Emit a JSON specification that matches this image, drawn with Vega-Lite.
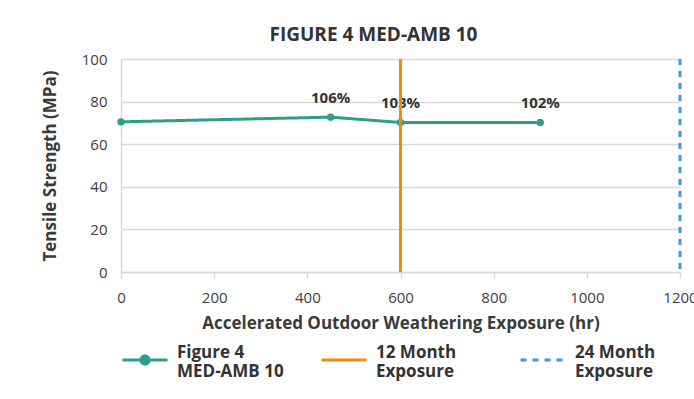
{
  "$schema": "https://vega.github.io/schema/vega-lite/v6.json",
  "width": 559,
  "height": 213,
  "autosize": "none",
  "padding": {"left": 121, "top": 59, "right": 14, "bottom": 127},
  "background": "white",
  "title": {"text": "FIGURE 4 MED-AMB 10", "font": "Open Sans", "fontSize": 19, "fontWeight": "bold", "color": "#333333", "anchor": "middle", "dx": -27, "offset": 7},
  "datasets": {
    "pts": [
      {"hours": 0, "strength": 70.5, "label": "", "series": "Figure 4|MED-AMB 10"},
      {"hours": 450, "strength": 72.7, "label": "106%", "series": "Figure 4|MED-AMB 10"},
      {"hours": 600, "strength": 70.2, "label": "103%", "series": "Figure 4|MED-AMB 10"},
      {"hours": 900, "strength": 70.2, "label": "102%", "series": "Figure 4|MED-AMB 10"}
    ],
    "refs": [
      {"hours": 600, "series": "12 Month|Exposure"},
      {"hours": 1200, "series": "24 Month|Exposure"}
    ]
  },
  "encoding": {
    "x": {"field": "hours", "type": "quantitative",
      "scale": {"domain": [0, 1200], "nice": false},
      "axis": {"title": "Accelerated Outdoor Weathering Exposure (hr)", "values": [0, 200, 400, 600, 800, 1000, 1200], "format": "d", "labelFlush": false, "labelOverlap": false, "grid": false, "domain": true, "domainColor": "#d9d9d9", "domainWidth": 1.5, "ticks": true, "tickColor": "#d9d9d9", "tickWidth": 1.5, "tickSize": 6, "labelFontSize": 15, "labelColor": "#404040", "labelPadding": 12, "titleFontSize": 17, "titleFontWeight": "bold", "titleColor": "#3a3a3a", "titlePadding": 10}
    },
    "color": {"field": "series", "type": "nominal",
      "scale": {"domain": ["Figure 4|MED-AMB 10", "12 Month|Exposure", "24 Month|Exposure"], "range": ["#2f9e88", "#f28a0a", "#3b9ad9"]},
      "legend": {"title": null, "labelExpr": "split(datum.label, '|')", "encode": {"labels": {"update": {"dy": {"value": -7}}}}}
    }
  },
  "layer": [
    {
      "data": {"name": "pts"},
      "mark": {"type": "line", "strokeWidth": 3},
      "encoding": {
        "y": {"field": "strength", "type": "quantitative",
          "scale": {"domain": [0, 100], "nice": false},
          "axis": {"title": "Tensile Strength (MPa)", "values": [0, 20, 40, 60, 80, 100], "grid": true, "gridColor": "#d9d9d9", "gridWidth": 1.5, "domain": true, "domainColor": "#d9d9d9", "domainWidth": 1.5, "ticks": false, "labelFontSize": 15, "labelColor": "#404040", "labelPadding": 14, "titleFontSize": 17, "titleFontWeight": "bold", "titleColor": "#3a3a3a", "titlePadding": 22}
        },
        "strokeDash": {"field": "series", "type": "nominal",
          "scale": {"domain": ["Figure 4|MED-AMB 10", "12 Month|Exposure", "24 Month|Exposure"], "range": [[1, 0], [1, 0], [6, 6]]},
          "legend": {"title": null, "labelExpr": "split(datum.label, '|')", "encode": {"labels": {"update": {"dy": {"value": -7}}}}}
        }
      }
    },
    {
      "data": {"name": "pts"},
      "mark": {"type": "point", "filled": true, "size": 55, "opacity": 1},
      "encoding": {
        "y": {"field": "strength", "type": "quantitative"}
      }
    },
    {
      "data": {"name": "pts"},
      "mark": {"type": "text", "dy": -19, "fontSize": 15, "fontWeight": "bold", "font": "Open Sans"},
      "encoding": {
        "y": {"field": "strength", "type": "quantitative"},
        "text": {"field": "label"},
        "color": {"value": "#333333"}
      }
    },
    {
      "data": {"name": "refs"},
      "mark": {"type": "rule", "strokeWidth": 3},
      "encoding": {
        "strokeDash": {"field": "series", "type": "nominal"}
      }
    },
    {
      "data": {"name": "refs"},
      "transform": [{"filter": "false"}],
      "mark": {"type": "point", "filled": true},
      "encoding": {
        "shape": {"field": "series", "type": "nominal",
          "scale": {"domain": ["Figure 4|MED-AMB 10", "12 Month|Exposure", "24 Month|Exposure"], "range": ["M-1,0L1,0M0.18,0A0.18,0.18,0,1,1,-0.18,0A0.18,0.18,0,1,1,0.18,0Z", "M-1,0L1,0", "M-1,0L1,0"]},
          "legend": {"title": null, "labelExpr": "split(datum.label, '|')", "encode": {"labels": {"update": {"dy": {"value": -7}}}}}
        }
      }
    }
  ],
  "config": {
    "view": {"stroke": null},
    "font": "Open Sans",
    "legend": {
      "orient": "bottom",
      "direction": "horizontal",
      "columns": 3,
      "gridAlign": "all",
      "columnPadding": 31,
      "symbolSize": 2025,
      "symbolStrokeWidth": 3,
      "labelFontSize": 17,
      "labelFontWeight": "bold",
      "labelColor": "#333333",
      "labelOffset": 8,
      "labelLimit": 0,
      "offset": 5
    }
  }
}
